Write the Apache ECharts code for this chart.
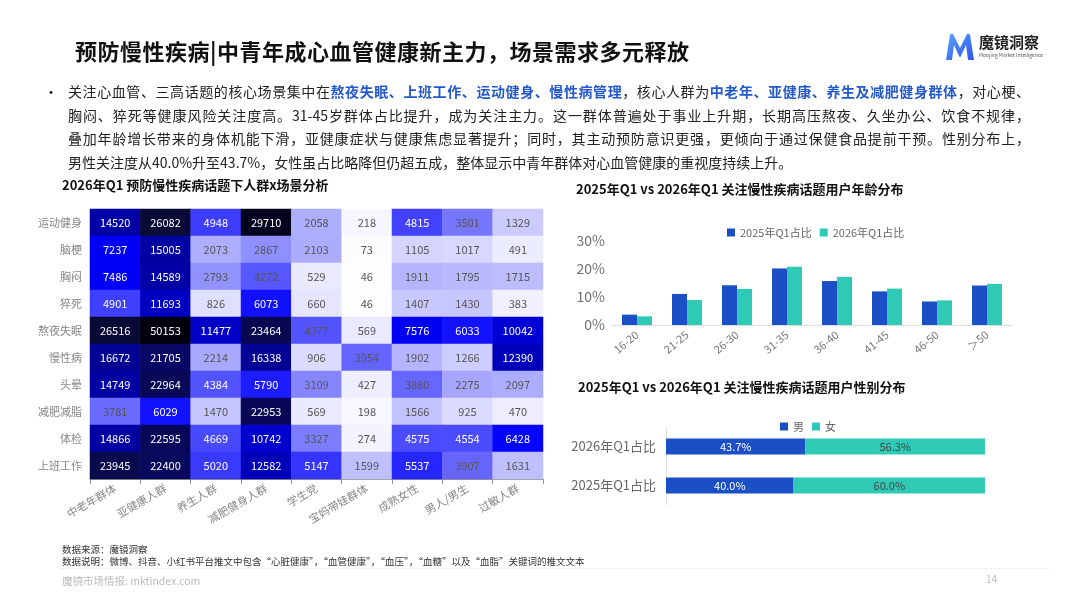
<!DOCTYPE html>
<html>
<head>
<meta charset="utf-8">
<script src="https://cdn.jsdelivr.net/npm/echarts@6/dist/echarts.min.js"></script>
<style>
  html,body{margin:0;padding:0;background:#fff;}
  body{width:1080px;height:608px;position:relative;overflow:hidden;font-family:"Noto Sans CJK SC","Noto Sans",sans-serif;}
  #chart{position:absolute;left:0;top:0;width:1080px;height:608px;}
  .t{position:absolute;white-space:nowrap;}
  .title{left:75px;top:35px;font-size:22px;font-weight:bold;color:#111;line-height:30px;letter-spacing:0.5px;}
  .body{position:absolute;left:68px;top:80px;width:962px;font-size:14px;color:#222;line-height:23.5px;}
  .body div{text-align:justify;text-align-last:justify;white-space:nowrap;}
  .body div.last{text-align-last:left;}
  .hl{color:#2459cc;font-weight:600;}
  .bullet{left:44px;top:80px;font-size:14px;line-height:23.5px;color:#222;}
  .ct{font-size:13px;font-weight:bold;color:#111;line-height:18px;}
  .foot{font-size:9.5px;color:#333;line-height:12px;}
</style>
</head>
<body>
<div id="chart"></div>
<div class="t title">预防慢性疾病|中青年成心血管健康新主力，场景需求多元释放</div>
<svg style="position:absolute;left:944px;top:32px" width="32" height="30" viewBox="0 0 32 30">
  <defs><linearGradient id="g" x1="0" y1="0" x2="1" y2="1"><stop offset="0" stop-color="#5aa0ff"/><stop offset="1" stop-color="#2f55e8"/></linearGradient></defs>
  <path d="M2 28 L6 3 Q7 1 9 2 L16 16 L23 2 Q25 1 26 3 L30 28 L24 28 L22 13 L17 24 Q16 26 15 24 L10 13 L8 28 Z" fill="url(#g)"/>
</svg>
<div class="t" style="left:979px;top:33px;font-size:15px;font-weight:bold;color:#222;line-height:18px;">魔镜洞察</div>
<div class="t" style="left:979px;top:52px;font-size:5px;color:#555;line-height:6px;">Moojing Market Intelligence</div>
<div class="t bullet">•</div>
<div class="body">
  <div>关注心血管、三高话题的核心场景集中在<span class="hl">熬夜失眠、上班工作、运动健身、慢性病管理</span>，核心人群为<span class="hl">中老年、亚健康、养生及减肥健身群体</span>，对心梗、</div>
  <div>胸闷、猝死等健康风险关注度高。31-45岁群体占比提升，成为关注主力。这一群体普遍处于事业上升期，长期高压熬夜、久坐办公、饮食不规律，</div>
  <div>叠加年龄增长带来的身体机能下滑，亚健康症状与健康焦虑显著提升；同时，其主动预防意识更强，更倾向于通过保健食品提前干预。性别分布上，</div>
  <div class="last">男性关注度从40.0%升至43.7%，女性虽占比略降但仍超五成，整体显示中青年群体对心血管健康的重视度持续上升。</div>
</div>
<div class="t ct" style="left:62px;top:176px;">2026年Q1 预防慢性疾病话题下人群x场景分析</div>
<div class="t ct" style="left:576px;top:180px;">2025年Q1 vs 2026年Q1 关注慢性疾病话题用户年龄分布</div>
<div class="t ct" style="left:578px;top:378px;">2025年Q1 vs 2026年Q1 关注慢性疾病话题用户性别分布</div>
<div class="t foot" style="left:62px;top:543px;">数据来源：魔镜洞察</div>
<div class="t foot" style="left:62px;top:555px;">数据说明：微博、抖音、小红书平台推文中包含“心脏健康”，“血管健康”，“血压”，“血糖”以及“血脂”关键词的推文文本</div>
<div style="position:absolute;left:60px;top:568px;width:990px;height:1px;background:#f0f0f0;"></div>
<div class="t foot" style="left:62px;top:575px;color:#bbb;font-size:10.5px;">魔镜市场情报: mktindex.com</div>
<div class="t foot" style="left:986px;top:573px;color:#bbb;font-size:10px;">14</div>
<script>
// ---- Heatmap data ----
const heatCols = ['中老年群体','亚健康人群','养生人群','减肥健身人群','学生党','宝妈带娃群体','成熟女性','男人/男生','过敏人群'];
const heatRows = ['运动健身','脑梗','胸闷','猝死','熬夜失眠','慢性病','头晕','减肥减脂','体检','上班工作'];
const row运动健身 = [14520,26082,4948,29710,2058,218,4815,3501,1329];
const row脑梗 = [7237,15005,2073,2867,2103,73,1105,1017,491];
const row胸闷 = [7486,14589,2793,4272,529,46,1911,1795,1715];
const row猝死 = [4901,11693,826,6073,660,46,1407,1430,383];
const row熬夜失眠 = [26516,50153,11477,23464,4377,569,7576,6033,10042];
const row慢性病 = [16672,21705,2214,16338,906,3954,1902,1266,12390];
const row头晕 = [14749,22964,4384,5790,3109,427,3880,2275,2097];
const row减肥减脂 = [3781,6029,1470,22953,569,198,1566,925,470];
const row体检 = [14866,22595,4669,10742,3327,274,4575,4554,6428];
const row上班工作 = [23945,22400,5020,12582,5147,1599,5537,3907,1631];
const heatValues = [row运动健身,row脑梗,row胸闷,row猝死,row熬夜失眠,row慢性病,row头晕,row减肥减脂,row体检,row上班工作];

// ---- Age distribution ----
const ageCats = ['16-20','21-25','26-30','31-35','36-40','41-45','46-50','＞50'];
const age2025 = [3.7,11.1,14.2,20.2,15.7,12.0,8.4,14.1];
const age2026 = [3.1,8.9,12.9,20.8,17.2,13.0,8.8,14.7];

// ---- Gender distribution ----
const genderCats = ['2025年Q1占比','2026年Q1占比'];
const male = [40.0,43.7];
const female = [60.0,56.3];

const heatData = [];
heatValues.forEach((row, r) => row.forEach((v, c) => {
  heatData.push({value:[c, r, v], label:{color: v > 4380 ? '#ffffff' : '#555555'}});
}));

const BLUE = '#1b4fc6', TEAL = '#2ecab5';
const chart = echarts.init(document.getElementById('chart'));
chart.setOption({
  animation:false,
  textStyle:{fontFamily:'"Noto Sans CJK SC","Noto Sans",sans-serif'},
  grid:[
    {left:90, top:209, width:453, height:270},
    {left:612, top:241, width:400, height:84},
    {left:666, top:427, width:319, height:78}
  ],
  visualMap:{
    show:false, type:'continuous', seriesIndex:0, min:0, max:32500,
    inRange:{color:['#ffffff','#0000ff','#0000b4','#06067a','#0a0a38','#00000c']}
  },
  legend:[
    {data:['2025年Q1占比','2026年Q1占比'], top:222, left:722, itemWidth:8, itemHeight:8, itemGap:8,
     textStyle:{fontSize:11,color:'#666'}, icon:'rect'},
    {data:['男','女'], top:416, left:775, itemWidth:8, itemHeight:8, itemGap:8,
     textStyle:{fontSize:11,color:'#666'}, icon:'rect'}
  ],
  xAxis:[
    {gridIndex:0, type:'category', data:heatCols, position:'bottom',
     axisLine:{lineStyle:{color:'#999'}}, axisTick:{show:true,lineStyle:{color:'#999'}},
     axisLabel:{rotate:30, fontSize:11, color:'#888', margin:8}, splitArea:{show:false}},
    {gridIndex:1, type:'category', data:ageCats,
     axisLine:{lineStyle:{color:'#ddd'}}, axisTick:{show:false},
     axisLabel:{rotate:40, fontSize:11, color:'#777', margin:8}},
    {gridIndex:2, type:'value', min:0, max:100, show:false}
  ],
  yAxis:[
    {gridIndex:0, type:'category', data:heatRows, inverse:true,
     axisLine:{show:false}, axisTick:{show:false},
     axisLabel:{fontSize:11, color:'#888', margin:8}},
    {gridIndex:1, type:'value', min:0, max:30, interval:10,
     axisLine:{show:false}, axisTick:{show:false}, splitLine:{show:false},
     axisLabel:{fontSize:14, color:'#707070', formatter:'{value}%', margin:7}},
    {gridIndex:2, type:'category', data:genderCats,
     axisLine:{lineStyle:{color:'#e0e0e0'}}, axisTick:{show:false},
     axisLabel:{fontSize:13, color:'#666', margin:10}}
  ],
  series:[
    {type:'heatmap', xAxisIndex:0, yAxisIndex:0, data:heatData,
     label:{show:true, fontSize:11}, itemStyle:{borderWidth:0}},
    {name:'2025年Q1占比', type:'bar', xAxisIndex:1, yAxisIndex:1, data:age2025, barWidth:15, barGap:'0%', itemStyle:{color:BLUE}},
    {name:'2026年Q1占比', type:'bar', xAxisIndex:1, yAxisIndex:1, data:age2026, barWidth:15, barGap:'0%', itemStyle:{color:TEAL}},
    {name:'男', type:'bar', stack:'g', xAxisIndex:2, yAxisIndex:2, data:male, barWidth:16, itemStyle:{color:BLUE},
     label:{show:true, position:'inside', color:'#fff', fontSize:11, formatter:p=>p.value.toFixed(1)+'%'}},
    {name:'女', type:'bar', stack:'g', xAxisIndex:2, yAxisIndex:2, data:female, barWidth:16, itemStyle:{color:TEAL},
     label:{show:true, position:'inside', color:'#444', fontSize:11, formatter:p=>p.value.toFixed(1)+'%'}}
  ]
});
</script>
</body>
</html>
